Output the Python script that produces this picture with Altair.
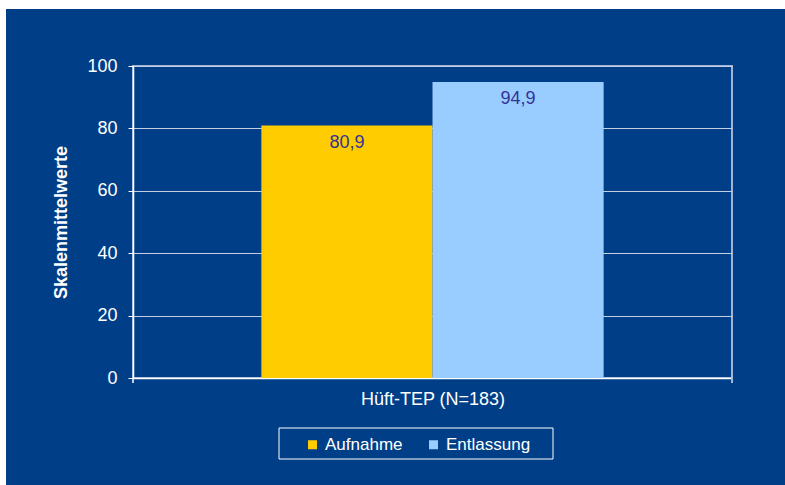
import altair as alt
import pandas as pd

series = ["Aufnahme", "Entlassung"]
values = [80.9, 94.9]
colors = ["#FFCC00", "#99CCFF"]
group_label = "Hüft-TEP (N=183)"
y_title = "Skalenmittelwerte"
y_ticks = [0, 20, 40, 60, 80, 100]

df = pd.DataFrame({
    "series": series,
    "value": values,
    "label": [f"{v:.1f}".replace(".", ",") for v in values],
})
one = pd.DataFrame({"k": [0]})

FONT = "Liberation Sans"
BG = "#003F88"
W, H = 599, 312

xscale = alt.Scale(domain=series, paddingInner=0, paddingOuter=0.75)

bars = alt.Chart(df).mark_bar().encode(
    x=alt.X("series:N", scale=xscale, sort=series,
            axis=alt.Axis(title=group_label, labels=False, ticks=False,
                          domainColor="white", domainWidth=1.5,
                          titleColor="white", titleFont=FONT, titleFontSize=18,
                          titleFontWeight="normal", titlePadding=12)),
    y=alt.Y("value:Q", scale=alt.Scale(domain=[0, 100]),
            axis=alt.Axis(title=y_title, values=y_ticks, tickSize=5,
                          tickColor="white", domainColor="white", domainWidth=1.5,
                          gridColor="#c4cfe2", gridWidth=1,
                          labelColor="white", labelFont=FONT, labelFontSize=18,
                          labelPadding=11,
                          titleColor="white", titleFont=FONT, titleFontSize=18,
                          titleFontWeight="bold", titlePadding=16)),
    color=alt.Color("series:N", scale=alt.Scale(domain=series, range=colors),
                    legend=alt.Legend(orient="none", legendX=171, legendY=370,
                                      direction="horizontal", title=None,
                                      symbolType="square", symbolSize=81,
                                      symbolStrokeWidth=0, labelFontSize=17,
                                      labelFont=FONT, labelColor="white",
                                      columnPadding=22, labelOffset=4)),
)

text = alt.Chart(df).mark_text(font=FONT, fontSize=18, color="#333399",
                               baseline="middle", dy=17).encode(
    x=alt.X("series:N", scale=xscale, sort=series),
    y="value:Q",
    text="label:N",
)

# white page margins at top and left
margin_top = alt.Chart(one).mark_rect(color="white").encode(
    x=alt.value(-133), x2=alt.value(652), y=alt.value(-66), y2=alt.value(-57))
margin_left = alt.Chart(one).mark_rect(color="white").encode(
    x=alt.value(-133), x2=alt.value(-127), y=alt.value(-66), y2=alt.value(419))

# small category boundary ticks below the x axis
tick_l = alt.Chart(one).mark_rule(color="white", strokeWidth=1.5).encode(
    x=alt.value(0), y=alt.value(H), y2=alt.value(H + 5))
tick_r = alt.Chart(one).mark_rule(color="#9fb4d6", strokeWidth=2).encode(
    x=alt.value(W), y=alt.value(H), y2=alt.value(H + 5))

# legend box
legend_box = alt.Chart(one).mark_rect(fill=None, stroke="white", strokeWidth=1).encode(
    x=alt.value(146), x2=alt.value(420), y=alt.value(362), y2=alt.value(393))

chart = alt.layer(
    margin_top, margin_left, bars, text, tick_l, tick_r, legend_box
).properties(
    width=W, height=H,
    autosize=alt.AutoSizeParams(type="none"),
    padding={"left": 133, "top": 66, "right": 53, "bottom": 107},
    background=BG,
).configure_view(
    stroke="#9fb4d6", strokeWidth=2,
).configure_axis(
    labelFont=FONT, titleFont=FONT,
)

chart.save("out.html", embed_options={"renderer": "svg", "actions": False})
